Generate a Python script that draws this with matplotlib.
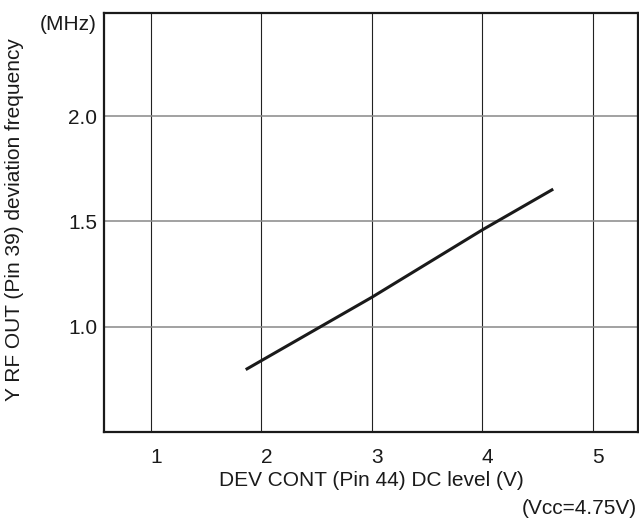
import numpy as np
import matplotlib
matplotlib.use("Agg")
import matplotlib.pyplot as plt
import matplotlib.transforms as mtransforms

plt.rcParams['font.family'] = ['Liberation Sans', 'DejaVu Sans']

# data
dev_cont_v = [1.87, 3.0, 4.0, 4.63]
deviation_mhz = [0.80, 1.14, 1.46, 1.65]

x_ticks = [1, 2, 3, 4, 5]
y_ticks = [1.0, 1.5, 2.0]
y_tick_labels = ["1.0", "1.5", "2.0"]

FS = 15
INK = '#1a1a1a'

fig = plt.figure(figsize=(6.39, 5.21), dpi=100)
ax = fig.add_axes([0.1628, 0.1708, 0.8357, 0.8042])

ax.set_xlim(0.575, 5.41)
ax.set_ylim(0.5, 2.49)

# grid: dark verticals, gray horizontals
for xv in x_ticks:
    ax.axvline(xv, color='#222222', lw=0.8, zorder=1)
for yv in y_ticks:
    ax.axhline(yv, color='#888888', lw=1.1, zorder=1)

ax.plot(dev_cont_v, deviation_mhz, color=INK, lw=2.2, zorder=3)

ax.set_xticks(x_ticks)
ax.set_xticklabels([str(v) for v in x_ticks])
ax.set_yticks(y_ticks)
ax.set_yticklabels(y_tick_labels)
ax.tick_params(length=0, labelsize=FS, colors=INK)
ax.tick_params(axis='x', pad=11.5)
ax.tick_params(axis='y', pad=5)

# x tick labels sit a little right of the grid lines
offset = mtransforms.ScaledTranslation(5 / 100, 0, fig.dpi_scale_trans)
for lab in ax.get_xticklabels():
    lab.set_transform(lab.get_transform() + offset)

for s in ax.spines.values():
    s.set_linewidth(1.6)
    s.set_color(INK)

fig.text(371 / 639, 1 - 486 / 521, "DEV CONT (Pin 44) DC level (V)",
         ha='center', va='baseline', fontsize=FS, color=INK)
fig.text(15 / 639, 1 - 220 / 521, "Y RF OUT (Pin 39) deviation frequency",
         ha='center', va='center', rotation=90, fontsize=FS, color=INK)

fig.text(97 / 639, 1 - 25 / 521, "(MHz)", ha='right', va='center', fontsize=FS, color=INK)
fig.text(637 / 639, 1 - 508 / 521, "(Vcc=4.75V)", ha='right', va='center', fontsize=FS, color=INK)

fig.savefig("out.png", dpi=100)
